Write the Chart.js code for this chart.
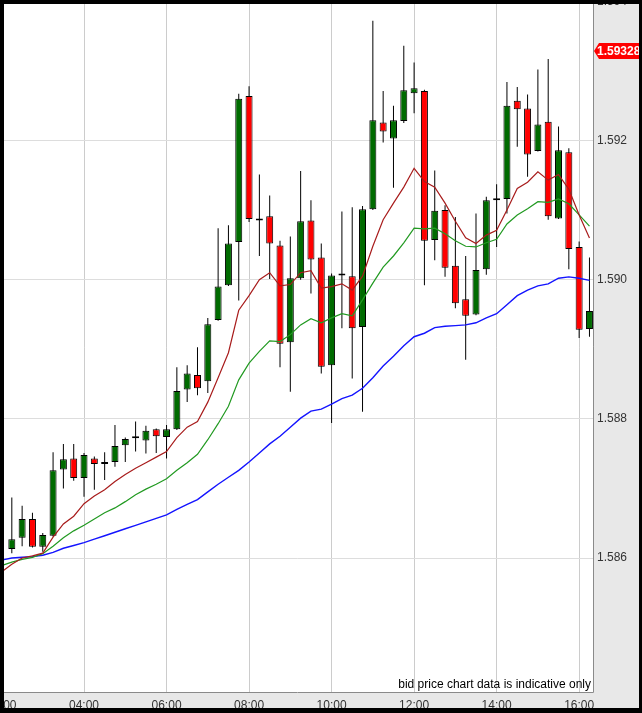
<!DOCTYPE html>
<html>
<head>
<meta charset="utf-8">
<script src="https://cdn.jsdelivr.net/npm/chart.js@4.4.1/dist/chart.umd.min.js"></script>
<style>
  html, body { margin: 0; padding: 0; background: #000; }
  #wrap { width: 642px; height: 713px; position: relative; }
</style>
</head>
<body>
<div id="wrap"><canvas id="priceChart"></canvas></div>
<script>
// 15 minute candles, 02:00 candle sits under the frame so it is left empty
const times = [
  '02:00', '02:15', '02:30', '02:45', '03:00', '03:15', '03:30', '03:45',
  '04:00', '04:15', '04:30', '04:45', '05:00', '05:15', '05:30', '05:45',
  '06:00', '06:15', '06:30', '06:45', '07:00', '07:15', '07:30', '07:45',
  '08:00', '08:15', '08:30', '08:45', '09:00', '09:15', '09:30', '09:45',
  '10:00', '10:15', '10:30', '10:45', '11:00', '11:15', '11:30', '11:45',
  '12:00', '12:15', '12:30', '12:45', '13:00', '13:15', '13:30', '13:45',
  '14:00', '14:15', '14:30', '14:45', '15:00', '15:15', '15:30', '15:45',
  '16:00', '16:15'
];
const opens = [
  null,
  1.58613, 1.58629, 1.58656, 1.58616, 1.58632, 1.58727, 1.58743, 1.58715, 1.58743, 1.58735,
  1.58738, 1.58762, 1.58772, 1.58769, 1.58785, 1.58774, 1.58785, 1.58842, 1.58863, 1.58854,
  1.58942, 1.58992, 1.59054, 1.59264, 1.59088, 1.59091, 1.59049, 1.58910, 1.59002, 1.59085,
  1.59032, 1.58877, 1.59006, 1.59005, 1.58932, 1.59101, 1.59226, 1.59203, 1.59228, 1.59268,
  1.59271, 1.59057, 1.59100, 1.59020, 1.58972, 1.58950, 1.59015, 1.59114, 1.59116, 1.59257,
  1.59246, 1.59185, 1.59227, 1.59088, 1.59183, 1.59047, 1.58929
];
const highs = [
  null,
  1.58687, 1.58675, 1.58665, 1.58636, 1.58752, 1.58764, 1.58764, 1.58751, 1.58746, 1.58752,
  1.58791, 1.58773, 1.58796, 1.58790, 1.58786, 1.58791, 1.58874, 1.58877, 1.58903, 1.58945,
  1.59074, 1.59078, 1.59267, 1.59278, 1.59151, 1.59121, 1.59056, 1.59062, 1.59156, 1.59114,
  1.59052, 1.59009, 1.59098, 1.59104, 1.59106, 1.59372, 1.59271, 1.59250, 1.59336, 1.59312,
  1.59273, 1.59157, 1.59107, 1.59090, 1.59034, 1.59095, 1.59119, 1.59137, 1.59284, 1.59277,
  1.59266, 1.59302, 1.59317, 1.59220, 1.59189, 1.59055, 1.59032
];
const lows = [
  null,
  1.58607, 1.58617, 1.58615, 1.58609, 1.58631, 1.58700, 1.58711, 1.58688, 1.58698, 1.58712,
  1.58731, 1.58738, 1.58753, 1.58750, 1.58751, 1.58743, 1.58784, 1.58824, 1.58834, 1.58837,
  1.58941, 1.58991, 1.58970, 1.59083, 1.59034, 1.59001, 1.58874, 1.58839, 1.59000, 1.58980,
  1.58865, 1.58794, 1.58930, 1.58858, 1.58810, 1.59100, 1.59197, 1.59132, 1.59225, 1.59239,
  1.58992, 1.59028, 1.59004, 1.58959, 1.58885, 1.58949, 1.59007, 1.59047, 1.59095, 1.59191,
  1.59148, 1.59184, 1.59086, 1.59087, 1.59015, 1.58916, 1.58918
];
const closes = [
  null,
  1.58627, 1.58656, 1.58616, 1.58633, 1.58726, 1.58742, 1.58715, 1.58748, 1.58735, 1.58735,
  1.58761, 1.58771, 1.58772, 1.58783, 1.58775, 1.58785, 1.58840, 1.58865, 1.58844, 1.58936,
  1.58990, 1.59052, 1.59260, 1.59087, 1.59085, 1.59052, 1.58908, 1.59002, 1.59084, 1.59029,
  1.58875, 1.59006, 1.59006, 1.58930, 1.59101, 1.59229, 1.59213, 1.59229, 1.59272, 1.59275,
  1.59056, 1.59099, 1.59017, 1.58966, 1.58948, 1.59014, 1.59114, 1.59114, 1.59250, 1.59245,
  1.59180, 1.59223, 1.59091, 1.59186, 1.59044, 1.58928, 1.58955
];
// moving averages (fast = dark red, mid = green, slow = blue)
const maFast = [
  1.58580, 1.58591, 1.58600, 1.58603, 1.58607, 1.58630, 1.58649, 1.58660, 1.58678, 1.58689,
  1.58698, 1.58710, 1.58720, 1.58729, 1.58737, 1.58745, 1.58753, 1.58773, 1.58788, 1.58796,
  1.58824, 1.58859, 1.58895, 1.58956, 1.58977, 1.59000, 1.59010, 1.58991, 1.58993, 1.59010,
  1.59013, 1.58988, 1.58990, 1.58994, 1.58985, 1.59005, 1.59048, 1.59086, 1.59110, 1.59133,
  1.59160, 1.59141, 1.59133, 1.59110, 1.59084, 1.59060, 1.59052, 1.59064, 1.59071, 1.59100,
  1.59131, 1.59140, 1.59155, 1.59143, 1.59151, 1.59130, 1.59093, 1.59060
];
const maMid = [
  1.58589, 1.58594, 1.58598, 1.58601, 1.58606, 1.58617, 1.58629, 1.58639, 1.58647, 1.58656,
  1.58665, 1.58672, 1.58681, 1.58691, 1.58699, 1.58706, 1.58714, 1.58726, 1.58737, 1.58749,
  1.58770, 1.58793, 1.58818, 1.58856, 1.58880, 1.58897, 1.58912, 1.58911, 1.58921, 1.58935,
  1.58944, 1.58938, 1.58945, 1.58951, 1.58948, 1.58971, 1.58995, 1.59018, 1.59034, 1.59053,
  1.59074, 1.59073, 1.59074, 1.59066, 1.59056, 1.59048, 1.59047, 1.59053, 1.59058, 1.59080,
  1.59093, 1.59102, 1.59112, 1.59111, 1.59116, 1.59109, 1.59093, 1.59077
];
const maSlow = [
  1.58597, 1.58600, 1.58601, 1.58602, 1.58604, 1.58608, 1.58614, 1.58618, 1.58622, 1.58627,
  1.58632, 1.58637, 1.58642, 1.58647, 1.58652, 1.58657, 1.58662, 1.58670, 1.58677, 1.58684,
  1.58695, 1.58706, 1.58716, 1.58726, 1.58738, 1.58751, 1.58764, 1.58775, 1.58788, 1.58801,
  1.58811, 1.58814, 1.58821, 1.58829, 1.58834, 1.58844, 1.58859, 1.58876, 1.58890, 1.58905,
  1.58918, 1.58923, 1.58931, 1.58933, 1.58934, 1.58935, 1.58938, 1.58945, 1.58951, 1.58964,
  1.58977, 1.58985, 1.58991, 1.58994, 1.59002, 1.59004, 1.59002, 1.58999
];
const timeTicks = ['02:00', '04:00', '06:00', '08:00', '10:00', '12:00', '14:00', '16:00'];
const priceTicks = [1.586, 1.588, 1.590, 1.592, 1.594];
const lastPrice = 1.59328;
const disclaimer = 'bid price chart data is indicative only';

const toHours = t => {
    const [h, m] = t.split(':');
    return Number(h) + Number(m) / 60;
};

const candleIdx = times.map((t, i) => i).filter(i => opens[i] !== null);
const wickData = candleIdx.map(i => ({ x: toHours(times[i]), y: [lows[i], highs[i]] }));
const bodyData = candleIdx.map(i => ({ x: toHours(times[i]), y: [opens[i], closes[i]] }));
const bodyColors = candleIdx.map(i => closes[i] >= opens[i] ? '#006b00' : '#ff0000');
const lineData = arr => times.map((t, i) => ({ x: toHours(t), y: arr[i] }));

const FONT = '"Liberation Sans", Arial, sans-serif';

// backgrounds, plot edge, disclaimer, last price tag, black frame
const chartDecor = {
    id: 'chartDecor',
    beforeDraw(chart) {
        const { ctx, chartArea: a, width, height } = chart;
        ctx.save();
        ctx.fillStyle = '#e8e8e8';
        ctx.fillRect(0, 0, width, height);
        ctx.fillStyle = '#ffffff';
        ctx.fillRect(a.left, a.top, a.right - a.left, a.bottom - a.top);
        ctx.restore();
    },
    afterDraw(chart) {
        const { ctx, chartArea: a, width, height, scales } = chart;
        ctx.save();
        ctx.strokeStyle = '#8a8a8a';
        ctx.lineWidth = 1;
        ctx.beginPath();
        ctx.moveTo(a.right - 0.5, a.top);
        ctx.lineTo(a.right - 0.5, a.bottom - 0.5);
        ctx.lineTo(a.left, a.bottom - 0.5);
        ctx.stroke();

        ctx.font = '12px ' + FONT;
        ctx.fillStyle = '#000';
        ctx.textAlign = 'right';
        ctx.textBaseline = 'bottom';
        ctx.fillText(disclaimer, a.right - 3, a.bottom - 2);

        // red price tag on the axis
        const y = Math.round(scales.y.getPixelForValue(lastPrice));
        ctx.fillStyle = '#ff0000';
        ctx.beginPath();
        ctx.moveTo(a.right, y);
        ctx.lineTo(a.right + 5, y - 8);
        ctx.lineTo(width, y - 8);
        ctx.lineTo(width, y + 8);
        ctx.lineTo(a.right + 5, y + 8);
        ctx.closePath();
        ctx.fill();
        ctx.fillStyle = '#ffffff';
        ctx.font = 'bold 12px ' + FONT;
        ctx.textAlign = 'left';
        ctx.textBaseline = 'middle';
        ctx.fillText(lastPrice.toFixed(5), a.right + 3, y + 1);

        ctx.fillStyle = '#000';
        ctx.fillRect(0, 0, width, 4);
        ctx.fillRect(0, 0, 4, height);
        ctx.fillRect(width - 3, 0, 3, height);
        ctx.fillRect(0, height - 5, width, 5);
        ctx.restore();
    }
};

document.addEventListener('DOMContentLoaded', function() {
    const ctx = document.getElementById('priceChart').getContext('2d');

    new Chart(ctx, {
        type: 'bar',
        data: {
            datasets: [
                {
                    type: 'line',
                    label: 'MA fast',
                    data: lineData(maFast),
                    borderColor: '#a81c1c',
                    borderWidth: 1.2,
                    pointRadius: 0,
                    order: 0
                },
                {
                    type: 'line',
                    label: 'MA mid',
                    data: lineData(maMid),
                    borderColor: '#229a22',
                    borderWidth: 1.2,
                    pointRadius: 0,
                    order: 0
                },
                {
                    type: 'line',
                    label: 'MA slow',
                    data: lineData(maSlow),
                    borderColor: '#1414ff',
                    borderWidth: 1.4,
                    pointRadius: 0,
                    order: 0
                },
                {
                    label: 'Body',
                    data: bodyData,
                    backgroundColor: bodyColors,
                    borderColor: '#000',
                    borderWidth: 1,
                    borderSkipped: false,
                    minBarLength: 2,
                    maxBarThickness: 7,
                    grouped: false,
                    order: 1
                },
                {
                    label: 'Wick',
                    data: wickData,
                    backgroundColor: '#000',
                    maxBarThickness: 1,
                    grouped: false,
                    order: 2
                }
            ]
        },
        plugins: [chartDecor],
        options: {
            responsive: true,
            maintainAspectRatio: false,
            animation: false,
            layout: { padding: { left: 1.5, top: 1.3, right: 0, bottom: 0 } },
            plugins: {
                legend: { display: false },
                tooltip: { enabled: false }
            },
            scales: {
                x: {
                    type: 'linear',
                    position: 'bottom',
                    min: 2,
                    max: 16.36,
                    offset: false,
                    border: { display: false },
                    grid: { color: '#cccccc', lineWidth: 1, drawTicks: false, offset: false },
                    afterBuildTicks: axis => {
                        axis.ticks = timeTicks.map(t => ({ value: toHours(t) }));
                    },
                    afterFit: axis => {
                        axis.height = 20;
                        axis.paddingLeft = 0;
                        axis.paddingRight = 0;
                    },
                    ticks: {
                        autoSkip: false,
                        maxRotation: 0,
                        padding: 5,
                        color: '#333',
                        font: { family: FONT, size: 12 },
                        callback: v => timeTicks.find(t => toHours(t) === v) || ''
                    }
                },
                y: {
                    type: 'linear',
                    position: 'right',
                    min: 1.58406,
                    max: 1.594,
                    beginAtZero: false,
                    border: { display: false },
                    grid: { color: '#dddddd', lineWidth: 1, drawTicks: false },
                    afterBuildTicks: axis => {
                        axis.ticks = priceTicks.map(v => ({ value: v }));
                    },
                    afterFit: axis => {
                        axis.width = 48;
                        axis.paddingTop = 0;
                        axis.paddingBottom = 0;
                    },
                    ticks: {
                        padding: 3,
                        color: '#333',
                        font: { family: FONT, size: 12 },
                        callback: v => v.toFixed(3)
                    }
                }
            }
        }
    });
});
</script>
</body>
</html>
